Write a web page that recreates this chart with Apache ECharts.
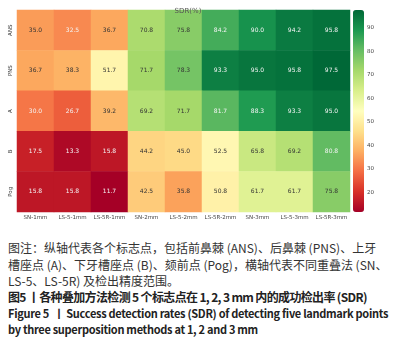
<!DOCTYPE html>
<html lang="zh">
<head>
<meta charset="UTF-8">
<title>SDR heatmap</title>
<script src="https://cdn.jsdelivr.net/npm/echarts@6/dist/echarts.min.js"></script>
<style>
    body { margin: 0; background: #fff; }
    #wrap { position: relative; width: 418px; height: 345px; overflow: hidden; }
    #chart { position: absolute; left: 0; top: 0; width: 418px; height: 228px; }
    .cap { position: absolute; left: 8px; white-space: nowrap; font-family: "Noto Sans CJK SC", sans-serif; color: #333; font-size: 12px; line-height: 16px; }
    .b { font-weight: bold; color: #222; letter-spacing: -0.65px; }
    .en { font-size: 11px; letter-spacing: -0.3px; }
</style>
</head>
<body>
<div id="wrap">
    <div id="chart"></div>
    <div class="cap" style="top:240px;">图注：纵轴代表各个标志点，包括前鼻棘 (ANS)、后鼻棘 (PNS)、上牙</div>
    <div class="cap" style="top:257px;">槽座点 (A)、下牙槽座点 (B)、颏前点 (Pog)，横轴代表不同重叠法 (SN、</div>
    <div class="cap" style="top:273px;">LS-5、LS-5R) 及检出精度范围。</div>
    <div class="cap b" style="top:289px;">图5 丨各种叠加方法检测 5 个标志点在 1, 2, 3 mm 内的成功检出率 (SDR)</div>
    <div class="cap b en" style="top:305px;">Figure 5 &nbsp;丨 Success detection rates (SDR) of detecting five landmark points</div>
    <div class="cap b en" style="top:321px;">by three superposition methods at 1, 2 and 3 mm</div>
</div>
<script>
// 横轴：重叠法 + 精度
var methods = ['SN-1mm', 'LS-5-1mm', 'LS-5R-1mm', 'SN-2mm', 'LS-5-2mm', 'LS-5R-2mm', 'SN-3mm', 'LS-5-3mm', 'LS-5R-3mm'];
// 纵轴：标志点（从上到下）
var landmarks = ['ANS', 'PNS', 'A', 'B', 'Pog'];
// 每个标志点的 SDR(%)
var sdrANS = [35.0, 32.5, 36.7, 70.8, 75.8, 84.2, 90.0, 94.2, 95.8];
var sdrPNS = [36.7, 38.3, 51.7, 71.7, 78.3, 93.3, 95.0, 95.8, 97.5];
var sdrA   = [30.0, 26.7, 39.2, 69.2, 71.7, 81.7, 88.3, 93.3, 95.0];
var sdrB   = [17.5, 13.3, 15.8, 44.2, 45.0, 52.5, 65.8, 69.2, 80.8];
var sdrPog = [15.8, 15.8, 11.7, 42.5, 35.8, 50.8, 61.7, 61.7, 75.8];
var barTicks = [20, 30, 40, 50, 60, 70, 80, 90];

var rows = [sdrANS, sdrPNS, sdrA, sdrB, sdrPog];
var cells = [];
rows.forEach(function (vals, r) {
    vals.forEach(function (v, c) {
        var light = v < 34 || v >= 80;
        cells.push({ value: [c, landmarks.length - 1 - r, v], label: { color: light ? '#f4f4f4' : '#333' } });
    });
});
var vmin = 11.7, vmax = 97.5;

var chart = echarts.init(document.getElementById('chart'));
chart.setOption({
    animation: false,
    textStyle: { fontFamily: 'DejaVu Sans' },
    title: {
        text: 'SDR(%)', left: 183, top: 3, textAlign: 'center',
        textStyle: { fontSize: 7, fontWeight: 'normal', color: '#555' }
    },
    grid: [
        { left: 17, top: 10, width: 333, height: 202 },
        { left: 353, top: 10, width: 11, height: 202 }
    ],
    xAxis: [
        {
            type: 'category', data: methods, gridIndex: 0,
            axisLine: { show: false },
            axisTick: { alignWithLabel: true, length: 2, lineStyle: { color: '#555' } },
            axisLabel: { fontSize: 5.5, color: '#444', margin: 3, interval: 0 },
            splitLine: { show: false }
        },
        { type: 'value', gridIndex: 1, show: false }
    ],
    yAxis: [
        {
            type: 'category', data: landmarks.slice().reverse(), gridIndex: 0,
            axisLine: { show: false },
            axisTick: { alignWithLabel: true, length: 2, lineStyle: { color: '#555' } },
            axisLabel: { fontSize: 5.5, color: '#444', rotate: 90, margin: 3, interval: 0 },
            splitLine: { show: false }
        },
        {
            type: 'value', gridIndex: 1, position: 'right', min: vmin, max: vmax,
            axisLine: { show: false },
            axisTick: { show: true, length: 2, customValues: barTicks, lineStyle: { color: '#555' } },
            axisLabel: { fontSize: 5.5, color: '#444', margin: 3, customValues: barTicks },
            splitLine: { show: false }
        }
    ],
    visualMap: {
        type: 'continuous', min: vmin, max: vmax, calculable: false,
        seriesIndex: 0, orient: 'vertical', left: 353, top: 10,
        itemWidth: 11, itemHeight: 202, padding: 0, text: null, showLabel: false,
        inRange: { color: ['#a50026', '#d73027', '#f46d43', '#fdae61', '#fee08b', '#ffffbf', '#d9ef8b', '#a6d96a', '#66bd63', '#1a9850', '#006837'] }
    },
    series: [{
        type: 'heatmap', xAxisIndex: 0, yAxisIndex: 0, data: cells,
        label: { show: true, fontSize: 6, formatter: function (p) { return p.value[2].toFixed(1); } },
        itemStyle: { borderWidth: 0 }
    }]
});
</script>
</body>
</html>
